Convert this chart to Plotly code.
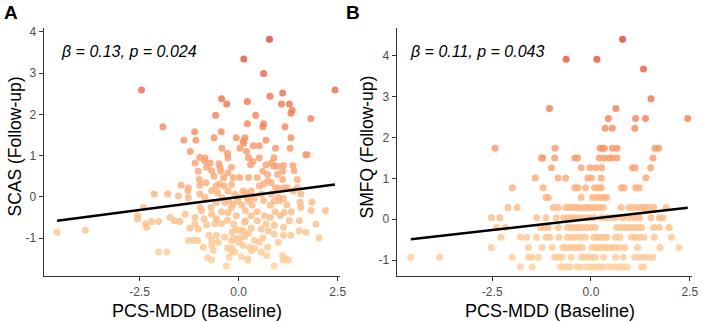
import plotly.graph_objects as go

# ---------------- Panel A: SCAS (Follow-up) vs PCS-MDD (Baseline) ----------------
scas_x = [0.78, 0.13, 0.63, -2.45, 2.43, 1.11, 0.79, -0.43, -0.30, 0.22, 1.08, 1.28, 1.35, 1.32,
          -0.58, 0.43, 1.82, 0.22, 0.63, 0.61, 1.17, -1.91, -1.11, -0.44, -1.38, -1.08, -0.62, -0.06,
          0.16, 0.12, 0.69, 1.32, 0.13, 0.37, 0.52, 0.03, -0.42, 0.93, 1.30, -1.22, -0.28, 0.20,
          1.69, 1.73, -0.98, -0.85, -0.27, 0.25, 0.52, 0.89, -0.72, -0.50, -0.86, 0.36, 0.83, 0.88,
          1.13, 1.37, -1.10, -0.81, -0.47, -0.18, 0.30, 0.69, 0.98, -1.02, -0.68, -0.45, -0.27, 0.61,
          1.40, 1.11, 0.98, 0.73, -0.62, -0.13, 0.03, 0.25, 0.47, -0.38, -0.99, 1.11, 1.48, 0.73,
          0.82, -0.82, -0.48, -0.18, -1.45, -1.27, -0.98, -0.57, -0.37, 0.52, 0.63, 1.23, 1.15, 1.48,
          1.03, 0.93, -1.28, -0.68, -0.27, 0.11, 0.19, 0.32, 1.38, -2.13, -1.79, -0.98, -0.53, -0.10,
          0.57, 0.82, 1.57, -1.52, -1.27, -0.85, -0.42, 0.00, 0.22, 0.40, 1.00, 1.13, -0.25, -0.03,
          0.25, 0.63, 0.90, 1.03, 1.85, 1.55, -0.56, -0.35, -0.14, 0.08, 0.34, 0.80, 1.22, -2.40,
          -0.97, -0.70, -0.18, 1.57, 1.83, 2.19, -0.93, -0.43, -0.27, 0.17, 0.47, 0.92, 1.33, 1.15,
          -0.68, -1.35, -0.06, 0.32, 0.65, 0.80, 1.05, -2.55, -2.55, -1.73, -1.10, -0.87, -0.56, -0.28,
          0.17, 0.47, 1.28, 1.53, -2.20, -2.02, -1.62, -1.48, -2.35, -2.32, -1.10, -0.81, -0.60, -0.43,
          -0.12, 0.15, 0.69, 0.90, 1.95, -1.23, -1.02, -0.08, 0.03, 0.11, 0.32, 0.57, 0.75, 1.13,
          -4.58, -3.87, 1.53, 1.70, -0.17, 0.25, 0.90, 1.13, 1.32, -0.75, -0.56, -0.35, -0.12, 0.03,
          0.15, 0.40, 0.61, 2.03, -1.27, -1.14, -1.03, -0.68, -0.52, -0.18, 0.00, 0.52, 1.00, -0.68,
          -0.89, -0.28, 0.28, 0.40, 0.73, -0.64, -0.18, -0.10, 0.32, -2.02, -1.81, 0.57, 0.07, 0.23,
          1.11, 1.19, -0.78, -0.68, -0.24, 0.71, 1.13, 1.26, 0.23, -0.31, 0.90, -0.17, 0.11]
scas_y = [3.82, 3.34, 2.99, 2.59, 2.59, 2.52, 2.44, 2.38, 2.25, 2.31, 2.25, 2.25, 2.10, 2.03,
          1.98, 1.98, 1.90, 1.77, 1.77, 1.70, 1.70, 1.70, 1.58, 1.58, 1.37, 1.37, 1.43, 1.43,
          1.43, 1.35, 1.37, 1.43, 1.30, 1.24, 1.24, 1.18, 1.18, 1.18, 1.18, 1.10, 1.06, 1.10,
          1.02, 1.02, 0.96, 0.94, 0.95, 0.95, 0.95, 0.95, 0.82, 0.80, 0.87, 0.86, 0.82, 0.74,
          0.76, 0.76, 0.82, 0.72, 0.72, 0.72, 0.78, 0.78, 0.74, 0.62, 0.63, 0.62, 0.58, 0.62,
          0.63, 0.62, 0.54, 0.54, 0.50, 0.47, 0.47, 0.47, 0.47, 0.46, 0.42, 0.42, 0.42, 0.38,
          0.34, 0.34, 0.31, 0.30, 0.28, 0.22, 0.28, 0.26, 0.26, 0.26, 0.31, 0.22, 0.22, 0.22,
          0.20, 0.22, 0.15, 0.15, 0.14, 0.14, 0.10, 0.14, 0.14, 0.07, 0.07, 0.07, 0.10, 0.06,
          0.06, 0.06, 0.07, 0.02, -0.02, -0.01, -0.02, -0.01, -0.02, -0.04, -0.01, -0.04, -0.09, -0.10,
          -0.10, -0.09, -0.10, -0.10, -0.13, -0.13, -0.14, -0.14, -0.18, -0.20, -0.20, -0.20, -0.20, -0.26,
          -0.26, -0.26, -0.26, -0.26, -0.33, -0.33, -0.34, -0.36, -0.38, -0.34, -0.36, -0.36, -0.36, -0.38,
          -0.42, -0.42, -0.46, -0.46, -0.46, -0.50, -0.46, -0.46, -0.54, -0.50, -0.50, -0.54, -0.54, -0.57,
          -0.58, -0.58, -0.58, -0.58, -0.60, -0.60, -0.58, -0.60, -0.66, -0.74, -0.66, -0.68, -0.65, -0.65,
          -0.66, -0.62, -0.66, -0.68, -0.66, -0.76, -0.78, -0.79, -0.82, -0.82, -0.76, -0.78, -0.82, -0.74,
          -0.86, -0.81, -0.82, -0.86, -0.86, -0.88, -0.90, -0.93, -0.93, -0.93, -0.94, -0.98, -1.00, -1.00,
          -0.97, -1.05, -1.00, -1.00, -1.06, -1.06, -1.06, -1.06, -1.10, -1.06, -1.10, -1.10, -1.10, -1.18,
          -1.22, -1.24, -1.22, -1.26, -1.22, -1.30, -1.30, -1.34, -1.30, -1.34, -1.34, -1.34, -1.45, -1.50,
          -1.42, -1.50, -1.48, -1.53, -1.46, -1.42, -1.54, -1.54, -1.54, -1.68, -1.68, -1.24, -1.18]
scas_fit_x = [-4.58, 2.43]
scas_fit_y = [-0.58, 0.30]

# ---------------- Panel B: SMFQ (Follow-up) vs PCS-MDD (Baseline) ----------------
smfq_levels = [4.41, 3.92, 3.68, 2.95, 2.71, 2.47, 2.23, 1.74, 1.50, 1.26, 1.01, 0.77, 0.53,
               0.29, 0.04, -0.20, -0.44, -0.69, -0.93, -1.17]
smfq_row_x = [
    [0.80],
    [-0.63, 0.15],
    [1.33],
    [1.52],
    [-1.05, 0.63],
    [0.44, 1.13, 1.38, 2.45],
    [0.36, 0.54, 1.11],
    [-2.43, -0.91, 0.23, 0.29, 0.34, 0.54, 0.66, 1.62, 1.71],
    [-1.25, -1.22, -0.92, -0.41, -0.34, 0.21, 0.34, 0.46, 0.54, 0.66, 1.57],
    [-1.00, -0.25, -0.03, 0.12, 0.27, 1.05, 1.12, 1.51],
    [-1.41, -0.83, -0.64, -0.08, 0.01, 0.26, 1.39],
    [-1.99, -1.21, -0.41, -0.33, -0.14, 0.09, 0.19, 0.26, 0.77, 0.84, 1.13, 1.22],
    [-1.14, -1.08, -0.25, 0.04, 0.15, 0.23, 0.33, 0.40],
    [-2.10, -1.87, -0.95, -0.83, -0.64, -0.56, -0.48, -0.39, -0.31, -0.22, -0.14, -0.06, 0.02,
     0.12, 0.22, 0.31, 0.76, 0.96, 1.07, 1.19, 1.29, 1.37, 1.48, 1.59, 1.90],
    [-2.52, -2.31, -1.37, -1.14, -0.88, -0.69, -0.58, -0.48, -0.38, -0.27, -0.14, -0.04, 0.07,
     0.27, 0.40, 0.52, 0.62, 0.80, 0.96, 1.11, 1.23, 1.52, 1.73, 1.82],
    [-2.39, -2.17, -1.28, -1.18, -1.08, -0.83, -0.60, -0.49, -0.39, -0.31, -0.22, -0.10, 0.01,
     0.11, 0.65, 0.76, 0.86, 0.96, 1.07, 1.18, 1.28, 1.59, 1.73, 1.98],
    [-2.28, -1.79, -1.63, -1.38, -1.14, -1.04, -0.81, -0.60, -0.49, -0.39, -0.27, -0.14, 0.07,
     0.15, 0.23, 0.32, 0.40, 0.62, 0.73, 1.02, 1.12, 1.23, 1.34, 1.60, 2.04],
    [-2.52, -1.58, -1.24, -0.98, -0.71, -0.63, -0.54, -0.46, -0.38, -0.29, -0.21, 0.02, 0.11,
     0.19, 0.27, 0.36, 0.44, 0.52, 0.61, 0.72, 0.86, 1.18, 1.75, 2.23],
    [-4.56, -3.83, -1.99, -1.58, -1.49, -1.33, -0.92, -0.83, -0.73, -0.50, -0.24, -0.16, -0.06,
     0.02, 0.11, 0.32, 0.62, 0.82, 1.11, 1.23, 1.34, 1.46, 1.57],
    [-1.79, -1.49, -0.77, -0.69, -0.60, -0.52, -0.35, -0.27, -0.12, -0.03, 0.05, 0.13, 0.22,
     0.30, 0.44, 0.54, 0.63, 0.73, 0.82, 0.92, 1.28, 1.34],
]
smfq_fit_x = [-4.56, 2.45]
smfq_fit_y = [-0.49, 0.28]

x_ticks = [-2.5, 0.0, 2.5]
x_ticktext = ["-2.5", "0.0", "2.5"]
y_ticks = [-1, 0, 1, 2, 3, 4]
y_ticktext = ["-1", "0", "1", "2", "3", "4"]

smfq_x, smfq_y = [], []
for lvl, xs in zip(smfq_levels, smfq_row_x):
    smfq_x.extend(xs)
    smfq_y.extend([lvl] * len(xs))

FONT = "Liberation Sans, Arial, Helvetica, sans-serif"
cscale = [[0.0, "#fdd09a"], [0.3, "#fdb57f"], [0.6, "#f78a5c"], [1.0, "#dc4530"]]

fig = go.Figure()
fig.add_trace(go.Scatter(x=scas_x, y=scas_y, mode="markers", xaxis="x", yaxis="y",
                         marker=dict(size=7, color=scas_y, colorscale=cscale, opacity=0.8,
                                     line=dict(width=0)), showlegend=False))
fig.add_trace(go.Scatter(x=scas_fit_x, y=scas_fit_y, mode="lines", xaxis="x", yaxis="y",
                         line=dict(color="black", width=2.6), showlegend=False))
fig.add_trace(go.Scatter(x=smfq_x, y=smfq_y, mode="markers", xaxis="x2", yaxis="y2",
                         marker=dict(size=7, color=smfq_y, colorscale=cscale, opacity=0.8,
                                     line=dict(width=0)), showlegend=False))
fig.add_trace(go.Scatter(x=smfq_fit_x, y=smfq_fit_y, mode="lines", xaxis="x2", yaxis="y2",
                         line=dict(color="black", width=2.6), showlegend=False))

W, H = 709, 321
ydom = [1 - 276 / H, 1 - 25 / H]
axis_common = dict(showline=True, linecolor="#333333", linewidth=1.1, ticks="outside",
                   ticklen=4, tickcolor="#333333", tickwidth=1.1, showgrid=False, zeroline=False,
                   tickfont=dict(family=FONT, size=12, color="#4d4d4d"))

fig.update_layout(
    width=W, height=H, autosize=False,
    margin=dict(l=0, r=0, t=0, b=0),
    paper_bgcolor="white", plot_bgcolor="white",
    xaxis=dict(domain=[44 / W, 343 / W], range=[-4.92, 2.56], anchor="y",
               tickvals=x_ticks, ticktext=x_ticktext, **axis_common),
    yaxis=dict(domain=ydom, range=[-1.93, 4.10], anchor="x",
               tickvals=y_ticks, ticktext=y_ticktext, **axis_common),
    xaxis2=dict(domain=[400 / W, 698 / W], range=[-4.92, 2.56], anchor="y2",
                tickvals=x_ticks, ticktext=x_ticktext, **axis_common),
    yaxis2=dict(domain=ydom, range=[-1.40, 4.69], anchor="x2",
                tickvals=y_ticks, ticktext=y_ticktext, **axis_common),
)

ann = []
def add_text(text, x, y, size, xanchor="center", yanchor="middle", bold=False, italic=False,
             angle=0, color="black"):
    t = text
    if bold:
        t = "<b>" + t + "</b>"
    if italic:
        t = "<i>" + t + "</i>"
    ann.append(dict(text=t, x=x / W, y=1 - y / H, xref="paper", yref="paper",
                    xanchor=xanchor, yanchor=yanchor, showarrow=False, textangle=angle,
                    font=dict(family=FONT, size=size, color=color)))

add_text("A", 2, 10, 19, xanchor="left", bold=True)
add_text("B", 347, 10, 19, xanchor="left", bold=True)
add_text("β = 0.13, p = 0.024", 59, 49, 16, xanchor="left", italic=True)
add_text("β = 0.11, p = 0.043", 411, 49, 16, xanchor="left", italic=True)
add_text("PCS-MDD (Baseline)", 199, 311, 18)
add_text("PCS-MDD (Baseline)", 555, 311, 18)
add_text("SCAS (Follow-up)", 15, 145, 17.5, angle=-90)
add_text("SMFQ (Follow-up)", 370, 145, 17.5, angle=-90)
fig.update_layout(annotations=ann)

fig.write_html("out.html")
